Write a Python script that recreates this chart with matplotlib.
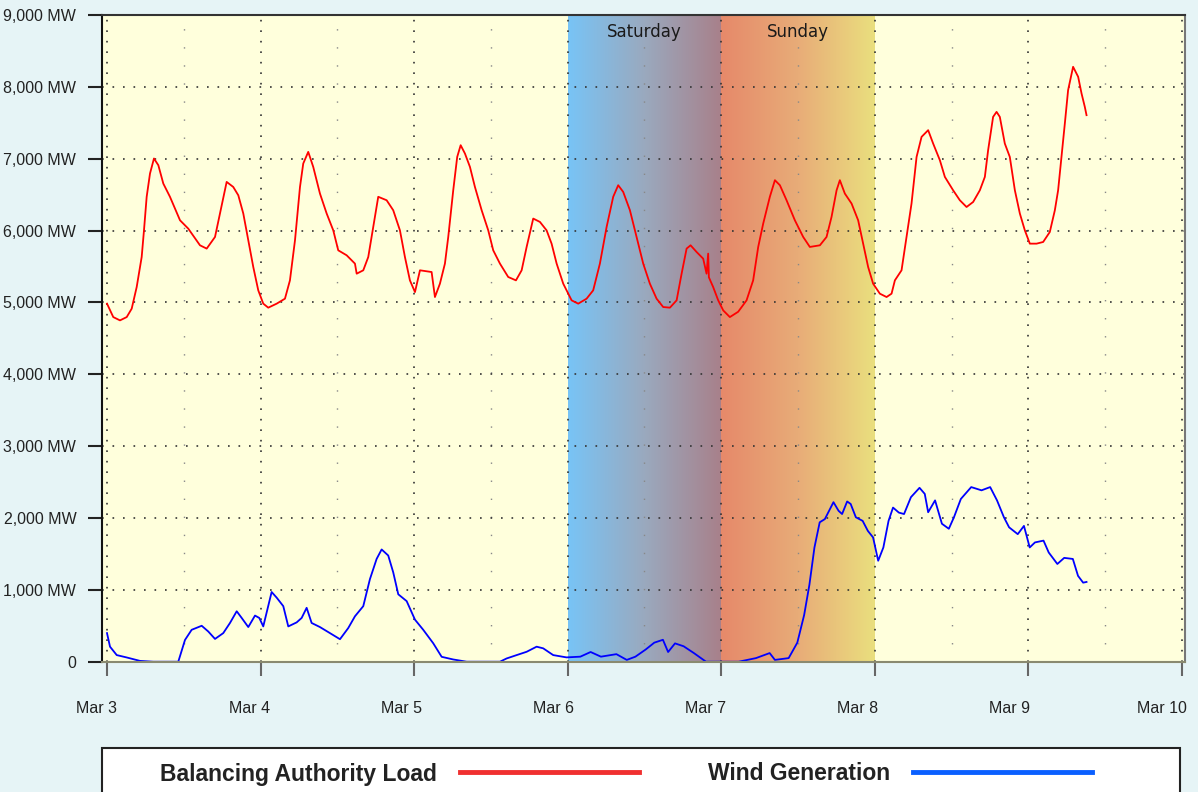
import numpy as np
import matplotlib
matplotlib.use("Agg")
import matplotlib.pyplot as plt
from matplotlib.lines import Line2D
from matplotlib.patches import Rectangle
from matplotlib.colors import to_rgb
from matplotlib.transforms import ScaledTranslation

# ---------------- data (hours since Mar 3 00:00, MW) ----------------
load_hours = [0, 0.98, 2.03, 3.08, 3.86, 4.64, 5.42, 5.78, 6.2, 6.72, 7.34, 8.02, 8.8, 9.84, 11.41,
              12.7, 14.53, 15.58, 16.88, 17.66, 18.7, 19.73, 20.52, 21.3, 22.08, 22.86, 23.64, 24.42,
              25.2, 26.52, 27.81, 28.59, 29.38, 30.16, 30.67, 31.45, 32.23, 33.28, 34.33, 35.36, 36.14,
              37.45, 38.75, 39.02, 40.05, 40.83, 41.61, 42.39, 43.7, 44.73, 45.78, 46.56, 47.34, 48.13,
              48.91, 50.73, 51.25, 52.03, 52.81, 53.33, 54.11, 54.73, 55.27, 55.94, 56.72, 57.5, 58.55,
              59.58, 60.36, 61.41, 62.7, 63.91, 64.8, 65.58, 66.61, 67.66, 68.7, 69.48, 70.27, 71.3,
              72.61, 73.64, 74.95, 75.98, 77.03, 78.08, 79.11, 79.89, 80.67, 81.72, 82.77, 83.8, 84.84,
              85.89, 86.92, 87.97, 89.02, 89.8, 90.58, 91.2, 92.14, 93.17, 93.7, 93.95, 94.06, 94.73,
              95.52, 96.3, 97.34, 98.64, 99.95, 100.98, 101.77, 102.55, 103.59, 104.38, 105.16, 106.2,
              107.5, 108.8, 109.84, 111.41, 112.45, 113.23, 114.02, 114.53, 115.31, 116.36, 117.39,
              118.17, 118.95, 119.73, 120.78, 121.83, 122.61, 123.13, 124.17, 124.95, 125.73, 126.25,
              126.52, 127.3, 128.33, 129.11, 130.16, 130.94, 132.23, 133.28, 134.33, 135.36, 136.41,
              137.19, 137.7, 138.48, 139.02, 139.53, 140.31, 141.09, 141.88, 142.66, 143.44, 144.22,
              145.27, 146.3, 147.34, 148.13, 148.64, 149.17, 149.69, 150.2, 150.98, 151.77, 152.3,
              152.81, 153.08]
load_mw = [4983, 4796, 4750, 4796, 4913, 5214, 5632, 6003, 6470, 6794, 7003, 6910, 6654, 6470, 6143,
           6027, 5795, 5749, 5911, 6237, 6677, 6607, 6491, 6237, 5865, 5493, 5168, 4983,
           4927, 4983, 5052, 5307, 5865, 6607, 6933, 7095, 6886, 6515, 6237, 6003, 5725,
           5656, 5540, 5400, 5447, 5632, 6050, 6470, 6422, 6283, 6003, 5632, 5307, 5144,
           5447, 5423, 5075, 5261, 5540, 5911, 6561, 7025, 7188, 7072, 6886, 6607, 6283,
           6003, 5725, 5540, 5354, 5307, 5447, 5772, 6167, 6120, 6003, 5818, 5540, 5261,
           5029, 4983, 5052, 5168, 5540, 6050, 6470, 6631, 6538, 6283, 5911, 5540, 5261,
           5052, 4936, 4927, 5029, 5400, 5749, 5795, 5702, 5609, 5400, 5679, 5350, 5214,
           5029, 4889, 4796, 4870, 5029, 5307, 5772, 6097, 6470, 6701, 6631, 6422,
           6143, 5911, 5772, 5795, 5911, 6190, 6561, 6701, 6515, 6376, 6143,
           5818, 5493, 5261, 5122, 5075, 5122, 5307, 5447, 5911, 6376, 6794,
           7025, 7304, 7397, 7211, 6979, 6747, 6561, 6422, 6328, 6398, 6561,
           6747, 7118, 7582, 7652, 7582, 7211, 7025, 6561, 6237, 6003, 5818,
           5818, 5841, 5980, 6283, 6561, 7025, 7490, 7954, 8279, 8140, 7908,
           7722, 7606]

wind_hours = [0, 0.47, 1.52, 3.08, 5.16, 7.23, 11.14, 12.19, 13.23, 14.8, 15.83, 16.88, 18.17, 19.22,
              20.27, 21.05, 22.08, 23.13, 23.8, 24.42, 25.73, 26.52, 27.55, 28.33, 29.64, 30.42, 31.2,
              31.98, 33.28, 34.84, 36.41, 37.7, 38.75, 40.05, 41.09, 42.14, 42.92, 43.95, 44.73, 45.52,
              46.83, 48.13, 49.42, 50.98, 52.3, 54.11, 56.2, 61.41, 62.45, 64.02, 65.58, 67.14, 68.17,
              69.73, 71.81, 73.97, 75.58, 77.19, 79.61, 81.23, 82.58, 84.19, 85.53, 86.88, 87.69, 88.77,
              90.11, 91.72, 93.61, 96.03, 98.72, 101.42, 103.56, 104.38, 106.53, 107.88, 108.95, 109.77,
              110.56, 111.38, 112.19, 113.53, 114.33, 114.88, 115.67, 116.22, 117.03, 118.09, 118.91,
              119.72, 120.52, 121.33, 122.14, 122.84, 123.75, 124.56, 125.64, 126.98, 127.8, 128.33,
              129.41, 130.48, 131.56, 132.36, 133.44, 135.06, 136.67, 138.02, 139.09, 140.17, 140.98,
              142.33, 143.3, 144.2, 145.02, 146.36, 147.17, 148.52, 149.59, 150.94, 151.75, 152.55,
              153.08]
wind_mw = [398, 209, 92, 59, 11, 0, 0, 303, 444, 500, 420, 317, 398, 539,
           702, 609, 482, 642, 609, 491, 970, 891, 773, 491, 547, 609, 750,
           539, 482, 398, 313, 468, 632, 773, 1149, 1431, 1562, 1478, 1244, 938,
           843, 585, 444, 257, 68, 31, 0, 0, 45, 92, 138, 209, 186,
           92, 60, 70, 135, 70, 105, 25, 70, 170, 265, 305, 135, 255,
           215, 120, 0, 0, 0, 50, 120, 25, 50, 265, 650, 1070,
           1590, 1940, 1985, 2220, 2100, 2055, 2230, 2195, 2010, 1960, 1820,
           1730, 1405, 1590, 1960, 2145, 2075, 2055, 2290, 2420, 2335, 2080,
           2245, 1920, 1850, 2010, 2265, 2430, 2385, 2430, 2245, 2010, 1870,
           1775, 1890, 1590, 1660, 1685, 1520, 1360, 1445, 1430, 1195, 1100,
           1110]

day_labels = ["Mar 3", "Mar 4", "Mar 5", "Mar 6", "Mar 7", "Mar 8", "Mar 9", "Mar 10"]
y_ticks = [0, 1000, 2000, 3000, 4000, 5000, 6000, 7000, 8000, 9000]
y_labels = ["0", "1,000 MW", "2,000 MW", "3,000 MW", "4,000 MW", "5,000 MW",
            "6,000 MW", "7,000 MW", "8,000 MW", "9,000 MW"]
weekend_names = ["Saturday", "Sunday"]
weekend_start_hours = [72, 96]
weekend_colors = [["#78C4F6", "#9AA9BE", "#A8808A"],
                  ["#E6896A", "#E8AC78", "#EADF7E"]]
series_names = ["Balancing Authority Load", "Wind Generation"]

# ---------------- figure ----------------
label_font = ["Liberation Sans Narrow", "Liberation Sans", "DejaVu Sans"]
W, H = 1198, 792
fig = plt.figure(figsize=(W / 100, H / 100), dpi=100, facecolor="#E6F4F6")
ax = fig.add_axes([102 / W, 1 - 661.7 / H, (1185 - 102) / W, (661.7 - 15) / H])
ax.set_facecolor("#FFFFDC")

x_left = -5 / 153.6 * 24
x_right = 168 + 3 / 153.6 * 24
ax.set_xlim(x_left, x_right)
ax.set_ylim(0, 9000)

# weekend gradients
for name, start, cols in zip(weekend_names, weekend_start_hours, weekend_colors):
    c = np.array([to_rgb(cc) for cc in cols])
    n = 256
    t = np.linspace(0, 1, n)
    grad = np.zeros((1, n, 3))
    for k in range(3):
        grad[0, :, k] = np.interp(t, [0, 0.5, 1], c[:, k])
    ax.imshow(grad, extent=[start, start + 24, 0, 9000], aspect="auto",
              interpolation="bilinear", zorder=0.5)
    ax.text(start + 12, 8763, name, ha="center", va="center", fontsize=12,
            family="DejaVu Sans", color="#1a1a1a", zorder=3)

# grid lines
for d in range(0, 8):
    ax.axvline(d * 24, color="#333333", lw=1.2, ls=(0, (1, 5.3)), zorder=1)
for d in range(0, 7):
    ax.axvline(d * 24 + 12, color="#888888", lw=1.0, ls=(0, (1, 12)), zorder=1)
for yv in y_ticks[1:-1]:
    ax.axhline(yv, color="#333333", lw=1.2, ls=(0, (1, 5.3)), zorder=1)

ax.plot(load_hours, load_mw, color="#FF0000", lw=1.3, zorder=2)
ax.plot(wind_hours, wind_mw, color="#0000FF", lw=1.3, zorder=2)

ax.set_xticks([d * 24 for d in range(8)])
ax.set_xticklabels(day_labels, family=label_font, fontsize=11.5, color="#222222")
ax.set_yticks(y_ticks)
ax.set_yticklabels(y_labels, family=label_font, fontsize=11.5, color="#222222")
ax.tick_params(axis="x", length=10, width=1.5, color="#666666", pad=18)
ax.tick_params(axis="y", length=10, width=1.5, color="#222222", pad=8.5)

# shift the date labels slightly left, as in the reference
for k, lab in enumerate(ax.get_xticklabels()):
    dx = (-10 - 1.5 * k) / 100.0
    lab.set_transform(lab.get_transform() + ScaledTranslation(dx, 0, fig.dpi_scale_trans))

ax.spines["left"].set_color("#111111")
ax.spines["left"].set_linewidth(1.5)
ax.spines["top"].set_color("#333333")
ax.spines["top"].set_linewidth(1.5)
ax.spines["bottom"].set_color("#8A8A70")
ax.spines["bottom"].set_linewidth(1.5)
ax.spines["right"].set_color("#777777")
ax.spines["right"].set_linewidth(1.5)

# legend box
box = Rectangle((102 / W, -0.05), (1180 - 102) / W, 0.05 + (792 - 748) / H,
                transform=fig.transFigure, facecolor="white", edgecolor="#222222",
                lw=1.5, clip_on=False, zorder=5)
fig.patches.append(box)
handles = [Line2D([], [], color="#F03030", lw=3.5),
           Line2D([], [], color="#0A5FFF", lw=3.5)]
leg = fig.legend(handles, series_names, loc="center", bbox_to_anchor=(626 / W, 1 - 774 / H),
                 ncol=2, frameon=False, markerfirst=False, handlelength=7.8,
                 handletextpad=1.0, columnspacing=3.0,
                 prop={"family": "Liberation Sans", "size": 16.5, "weight": "bold"})
for txt in leg.get_texts():
    txt.set_color("#222222")
leg.set_zorder(6)

fig.savefig("out.png", dpi=100, facecolor=fig.get_facecolor())
